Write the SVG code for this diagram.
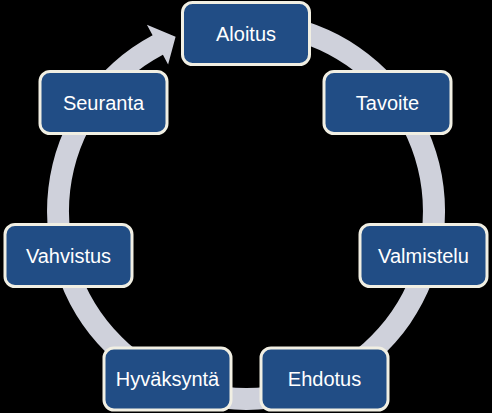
<svg xmlns="http://www.w3.org/2000/svg" width="492" height="413" viewBox="0 0 492 413">
<style>
.box{fill:#214d85;stroke:#f1efe3;stroke-width:3}
.lbl{fill:#ffffff;font-family:"Liberation Sans",Arial,sans-serif;font-size:20px;text-anchor:middle}
</style>
<rect width="492" height="413" fill="#000000"/>
<g id="connectors">
<path d="M246,12 A199,199 0 1 1 152.6,35.3 L146.9,24.7 L175.6,36.7 L168.1,64.4 L162.9,54.7 A177,177 0 1 0 246,34 Z" fill="#cfd1db"/>
</g>
<g id="aloitus"><rect class="box" x="182.5" y="2.5" width="127" height="62" rx="10"/><text class="lbl" x="246" y="41">Aloitus</text></g>
<g id="tavoite"><rect class="box" x="324" y="71.5" width="127" height="62" rx="10"/><text class="lbl" x="387.5" y="110">Tavoite</text></g>
<g id="valmistelu"><rect class="box" x="360" y="224.5" width="127" height="62" rx="10"/><text class="lbl" x="423.5" y="263">Valmistelu</text></g>
<g id="ehdotus"><rect class="box" x="261" y="348" width="127" height="62" rx="10"/><text class="lbl" x="324.5" y="386">Ehdotus</text></g>
<g id="hyvaksynta"><rect class="box" x="104" y="348" width="127" height="62" rx="10"/><text class="lbl" x="167.5" y="386">Hyväksyntä</text></g>
<g id="vahvistus"><rect class="box" x="5" y="224.5" width="127" height="62" rx="10"/><text class="lbl" x="68.5" y="263">Vahvistus</text></g>
<g id="seuranta"><rect class="box" x="40" y="71.5" width="127" height="62" rx="10"/><text class="lbl" x="103.5" y="110">Seuranta</text></g>
</svg>
